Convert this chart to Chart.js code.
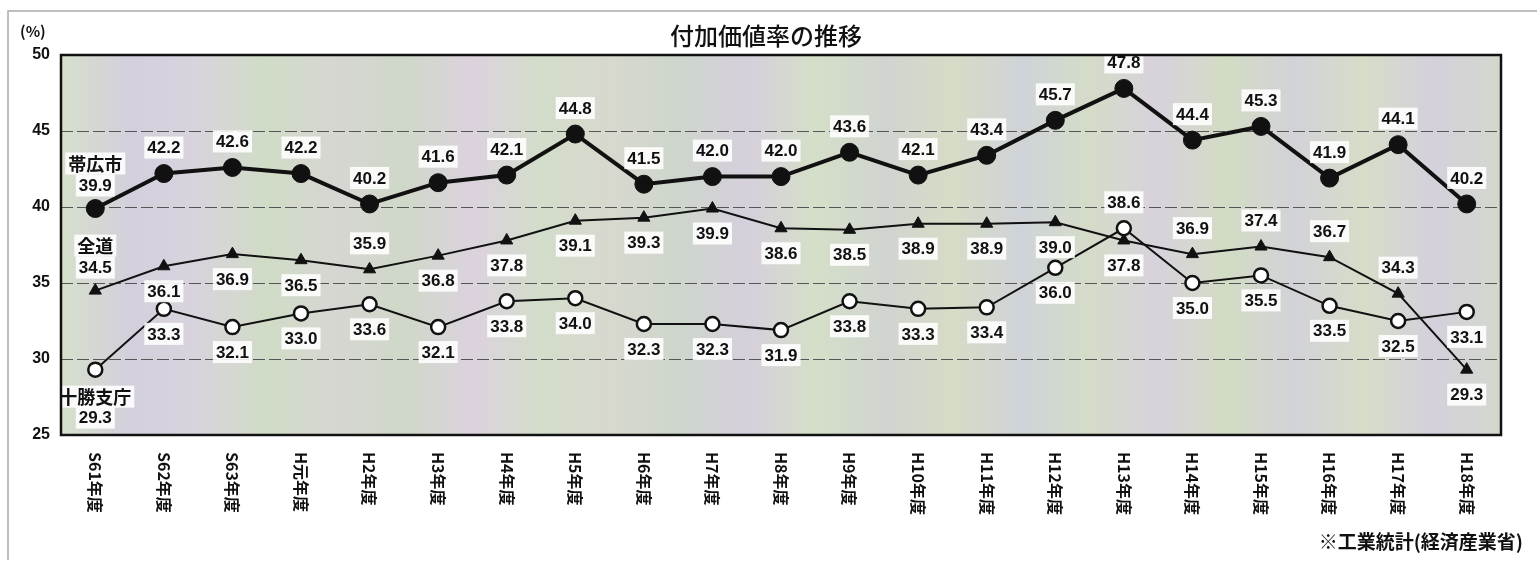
<!DOCTYPE html>
<html>
<head>
<meta charset="utf-8">
<script src="https://cdn.jsdelivr.net/npm/chart.js@4"></script>
<style>
  html, body { margin: 0; padding: 0; background: #fff; }
  #wrap { width: 1539px; height: 562px; }
</style>
</head>
<body>
<div id="wrap"><canvas id="chart"></canvas></div>
<script>
// Fiscal years (x categories)
const years = ['S61年度', 'S62年度', 'S63年度', 'H元年度', 'H2年度', 'H3年度', 'H4年度', 'H5年度', 'H6年度', 'H7年度', 'H8年度',
  'H9年度', 'H10年度', 'H11年度', 'H12年度', 'H13年度', 'H14年度', 'H15年度', 'H16年度', 'H17年度', 'H18年度'];

// Value added ratio (%)
const obihiro = [39.9, 42.2, 42.6, 42.2, 40.2, 41.6, 42.1, 44.8, 41.5, 42.0, 42.0, 43.6, 42.1, 43.4, 45.7, 47.8, 44.4, 45.3, 41.9, 44.1, 40.2];
const zendo = [34.5, 36.1, 36.9, 36.5, 35.9, 36.8, 37.8, 39.1, 39.3, 39.9, 38.6, 38.5, 38.9, 38.9, 39.0, 37.8, 36.9, 37.4, 36.7, 34.3, 29.3];
const tokachi = [29.3, 33.3, 32.1, 33.0, 33.6, 32.1, 33.8, 34.0, 32.3, 32.3, 31.9, 33.8, 33.3, 33.4, 36.0, 38.6, 35.0, 35.5, 33.5, 32.5, 33.1];

const seriesNames = ['帯広市', '全道', '十勝支庁'];
const yMin = 25, yMax = 50, yStep = 5;

const titleText = '付加価値率の推移';
const unitText = '(%)';
const sourceText = '※工業統計(経済産業省)';

// where each value label sits relative to its point: 'a' above, 'b' below
const labelSide = [
  'aaaaaaaaaaaaaaaaaaaaa',
  'abbbabbbbbbbbbbbaaaab',
  'bbbbbbbbbbbbbbbabbbbb'
];

const numFont = 'bold 17px "Liberation Sans", Arial, "Noto Sans CJK JP", sans-serif';
const jpFont = 'bold 18px "Noto Sans CJK JP", sans-serif';

function drawBox(ctx, text, x, y, font) {
  ctx.font = font;
  const w = ctx.measureText(text).width;
  ctx.fillStyle = 'rgba(255,255,255,0.88)';
  ctx.fillRect(x - w / 2 - 3, y - 11, w + 6, 22);
  ctx.fillStyle = '#111';
  ctx.textAlign = 'center';
  ctx.textBaseline = 'middle';
  ctx.fillText(text, x, y + 1);
}

const decor = {
  id: 'decor',
  beforeDraw(chart) {
    const { ctx, chartArea: a } = chart;
    ctx.save();
    ctx.fillStyle = '#fff';
    ctx.fillRect(0, 0, chart.width, chart.height);
    // faint outer frame of the scanned page
    ctx.strokeStyle = '#aaa';
    ctx.lineWidth = 1.5;
    ctx.beginPath();
    ctx.moveTo(8, 560); ctx.lineTo(8, 11); ctx.lineTo(1537, 11);
    ctx.stroke();
    // pale striped plot background
    const g = ctx.createLinearGradient(a.left, 0, a.right, 0);
    const cols = ['#d6e0cc', '#d3cfdc', '#d9d3dd', '#d0dcc6', '#d6d6d2', '#cfd8c8', '#dcd2de', '#d2ddca',
      '#d8d8ce', '#cdd6cc', '#d6cfdc', '#d4dfc8', '#d0d4d0', '#d6dcc6', '#cfd3d8', '#d4dcc8',
      '#d8d2dc', '#d2dcc4', '#d2d2d8', '#d6ddc8', '#d4d0dc', '#d2d8cc'];
    cols.forEach((c, i) => g.addColorStop(i / (cols.length - 1), c));
    ctx.fillStyle = g;
    ctx.fillRect(a.left, a.top, a.right - a.left, a.bottom - a.top);
    ctx.restore();
  },
  afterDatasetsDraw(chart) {
    const { ctx } = chart;
    ctx.save();
    [0, 1, 2].forEach(di => {
      const meta = chart.getDatasetMeta(di);
      const vals = chart.data.datasets[di].data;
      meta.data.forEach((pt, i) => {
        const below = labelSide[di][i] === 'b';
        const text = vals[i].toFixed(1);
        if (i === 0) {
          const dv = below ? 48 : -23;
          const dn = below ? 27 : -45;
          drawBox(ctx, seriesNames[di], pt.x, pt.y + dn, jpFont);
          drawBox(ctx, text, pt.x, pt.y + dv, numFont);
        } else {
          drawBox(ctx, text, pt.x, pt.y + (below ? 25 : -26), numFont);
        }
      });
    });
    ctx.restore();
  },
  afterDraw(chart) {
    const { ctx, chartArea: a } = chart;
    const xs = chart.scales.x;
    ctx.save();
    // plot frame
    ctx.strokeStyle = '#111';
    ctx.lineWidth = 2.5;
    ctx.strokeRect(a.left, a.top, a.right - a.left, a.bottom - a.top);
    // title, unit, source
    ctx.fillStyle = '#111';
    ctx.textBaseline = 'middle';
    ctx.textAlign = 'center';
    ctx.font = '500 24px "Noto Sans CJK JP", sans-serif';
    ctx.fillText(titleText, 766, 36);
    ctx.textAlign = 'left';
    ctx.font = 'bold 15px "Noto Sans CJK JP", sans-serif';
    ctx.fillText(unitText, 20, 31);
    ctx.textAlign = 'right';
    ctx.font = 'bold 19px "Noto Sans CJK JP", sans-serif';
    ctx.fillText(sourceText, 1523, 542);
    // rotated category labels
    ctx.font = 'bold 16px "Noto Sans CJK JP", sans-serif';
    ctx.textAlign = 'left';
    years.forEach((lab, i) => {
      const x = xs.getPixelForValue(i);
      ctx.save();
      ctx.translate(x, a.bottom + 17);
      ctx.rotate(Math.PI / 2);
      ctx.fillText(lab, 0, 0);
      ctx.restore();
    });
    ctx.restore();
  }
};

new Chart(document.getElementById('chart'), {
  type: 'line',
  data: {
    labels: years,
    datasets: [{
      label: seriesNames[0],
      data: obihiro,
      order: 1,
      borderColor: '#111',
      borderWidth: 4,
      pointRadius: 9,
      pointBackgroundColor: '#111',
      pointBorderColor: '#111',
      pointBorderWidth: 1
    }, {
      label: seriesNames[1],
      data: zendo,
      order: 2,
      borderColor: '#111',
      borderWidth: 2,
      pointStyle: 'triangle',
      pointRadius: 7,
      pointBackgroundColor: '#111',
      pointBorderColor: '#111',
      pointBorderWidth: 1
    }, {
      label: seriesNames[2],
      data: tokachi,
      order: 0,
      borderColor: '#111',
      borderWidth: 2,
      pointRadius: 7,
      pointBackgroundColor: '#fff',
      pointBorderColor: '#111',
      pointBorderWidth: 2.5
    }]
  },
  options: {
    responsive: true,
    maintainAspectRatio: false,
    animation: false,
    devicePixelRatio: 1,
    layout: { padding: { top: 55, right: 38, left: 0, bottom: 0 } },
    plugins: {
      legend: { display: false },
      title: { display: false },
      tooltip: { enabled: false }
    },
    scales: {
      x: {
        offset: true,
        grid: { display: false },
        border: { display: false },
        ticks: { display: false },
        afterFit: s => { s.height = 127; }
      },
      y: {
        min: yMin,
        max: yMax,
        ticks: {
          stepSize: yStep,
          padding: 11,
          color: '#111',
          font: { size: 16, weight: 'bold', family: '"Liberation Sans", Arial, sans-serif' }
        },
        grid: { color: '#555', lineWidth: 1, drawTicks: false },
        border: { display: false, dash: [12, 4] },
        afterFit: s => { s.width = 61; }
      }
    }
  },
  plugins: [decor]
});
</script>
</body>
</html>
